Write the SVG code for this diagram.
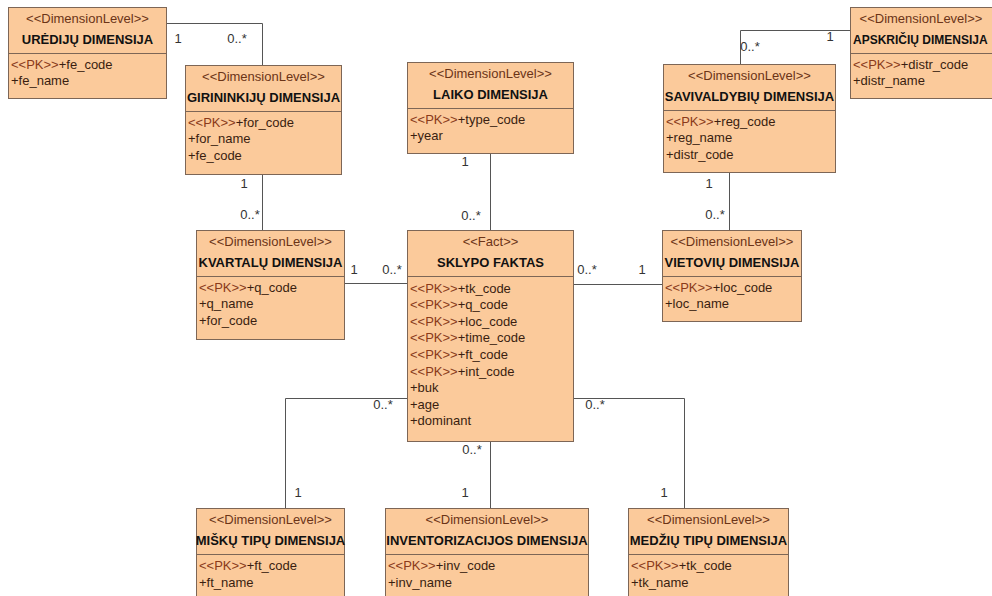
<svg xmlns="http://www.w3.org/2000/svg" width="992" height="596" viewBox="0 0 992 596">
  <style>
    .box { fill: #fbca9b; stroke: #7d6656; stroke-width: 1; }
    .sep { stroke: #7d6656; stroke-width: 1; }
    .st { font-family: "Liberation Sans", Arial, sans-serif; font-size: 13px; fill: #6b3417; text-anchor: middle; }
    .nm { font-family: "Liberation Sans", Arial, sans-serif; font-size: 13px; font-weight: bold; fill: #111; text-anchor: middle; }
    .at { font-family: "Liberation Sans", Arial, sans-serif; font-size: 13px; fill: #3a1e10; }
    .pk { fill: #8a3a1a; }
    .conn { fill: none; stroke: #555; stroke-width: 1; }
    .mul { font-family: "Liberation Sans", Arial, sans-serif; font-size: 13px; fill: #333; text-anchor: middle; }
  </style>
  <rect width="992" height="596" fill="#ffffff"/>

  <!-- associations -->
  <g id="connectors">
    <path class="conn" d="M166.5,23.5 H262.5 V65"/>
    <path class="conn" d="M262.5,174 V230"/>
    <path class="conn" d="M490.5,153 V230"/>
    <path class="conn" d="M740.5,64 V30.5 H850"/>
    <path class="conn" d="M729.5,172 V230"/>
    <path class="conn" d="M344,283.5 H407"/>
    <path class="conn" d="M573,284.5 H662"/>
    <path class="conn" d="M407,398.5 H285.5 V508"/>
    <path class="conn" d="M490.5,441 V508"/>
    <path class="conn" d="M573,398.5 H684.5 V508"/>

    <text class="mul" x="178" y="43">1</text>
    <text class="mul" x="237" y="43">0..*</text>
    <text class="mul" x="244" y="188">1</text>
    <text class="mul" x="250" y="219">0..*</text>
    <text class="mul" x="465" y="166">1</text>
    <text class="mul" x="471" y="220">0..*</text>
    <text class="mul" x="750" y="51">0..*</text>
    <text class="mul" x="830" y="41">1</text>
    <text class="mul" x="709" y="188">1</text>
    <text class="mul" x="715" y="219">0..*</text>
    <text class="mul" x="354" y="274">1</text>
    <text class="mul" x="392" y="274">0..*</text>
    <text class="mul" x="587" y="274">0..*</text>
    <text class="mul" x="642" y="274">1</text>
    <text class="mul" x="383" y="409">0..*</text>
    <text class="mul" x="595" y="409">0..*</text>
    <text class="mul" x="472" y="454">0..*</text>
    <text class="mul" x="298" y="497">1</text>
    <text class="mul" x="465" y="497">1</text>
    <text class="mul" x="664" y="497">1</text>
  </g>

  <g id="uredijos">
    <rect class="box" x="8.5" y="7.5" width="158" height="91"/>
    <line class="sep" x1="8.5" y1="53.5" x2="166.5" y2="53.5"/>
    <text class="st" x="87.5" y="22.5">&lt;&lt;DimensionLevel&gt;&gt;</text>
    <text class="nm" x="87.5" y="44">URĖDIJŲ DIMENSIJA</text>
    <text class="at" x="11" y="68.5"><tspan class="pk">&lt;&lt;PK&gt;&gt;</tspan>+fe_code</text>
    <text class="at" x="11" y="85">+fe_name</text>
  </g>

  <g id="girininkijos">
    <rect class="box" x="185.5" y="65.5" width="156" height="109"/>
    <line class="sep" x1="185.5" y1="111.5" x2="341.5" y2="111.5"/>
    <text class="st" x="263.5" y="80.5">&lt;&lt;DimensionLevel&gt;&gt;</text>
    <text class="nm" x="263.5" y="102">GIRININKIJŲ DIMENSIJA</text>
    <text class="at" x="188" y="126.5"><tspan class="pk">&lt;&lt;PK&gt;&gt;</tspan>+for_code</text>
    <text class="at" x="188" y="143">+for_name</text>
    <text class="at" x="188" y="159.5">+fe_code</text>
  </g>

  <g id="laiko">
    <rect class="box" x="407.5" y="62.5" width="166" height="91"/>
    <line class="sep" x1="407.5" y1="108.5" x2="573.5" y2="108.5"/>
    <text class="st" x="490.5" y="77.5">&lt;&lt;DimensionLevel&gt;&gt;</text>
    <text class="nm" x="490.5" y="99">LAIKO DIMENSIJA</text>
    <text class="at" x="410" y="123.5"><tspan class="pk">&lt;&lt;PK&gt;&gt;</tspan>+type_code</text>
    <text class="at" x="410" y="140">+year</text>
  </g>

  <g id="savivaldybes">
    <rect class="box" x="663.5" y="64.5" width="172" height="108"/>
    <line class="sep" x1="663.5" y1="110.5" x2="835.5" y2="110.5"/>
    <text class="st" x="749.5" y="79.5">&lt;&lt;DimensionLevel&gt;&gt;</text>
    <text class="nm" x="749.5" y="101">SAVIVALDYBIŲ DIMENSIJA</text>
    <text class="at" x="666" y="125.5"><tspan class="pk">&lt;&lt;PK&gt;&gt;</tspan>+reg_code</text>
    <text class="at" x="666" y="142">+reg_name</text>
    <text class="at" x="666" y="158.5">+distr_code</text>
  </g>

  <!-- this class box runs past the right edge of the canvas -->
  <g id="apskritys">
    <rect class="box" x="850.5" y="7.5" width="148" height="91"/>
    <line class="sep" x1="850.5" y1="53.5" x2="998.5" y2="53.5"/>
    <text class="st" x="921" y="22.5">&lt;&lt;DimensionLevel&gt;&gt;</text>
    <text class="nm" x="853" y="44" style="text-anchor:start; font-size:12px">APSKRIČIŲ DIMENSIJA</text>
    <text class="at" x="853" y="68.5"><tspan class="pk">&lt;&lt;PK&gt;&gt;</tspan>+distr_code</text>
    <text class="at" x="853" y="85">+distr_name</text>
  </g>

  <g id="kvartalai">
    <rect class="box" x="196.5" y="230.5" width="148" height="109"/>
    <line class="sep" x1="196.5" y1="276.5" x2="344.5" y2="276.5"/>
    <text class="st" x="270.5" y="245.5">&lt;&lt;DimensionLevel&gt;&gt;</text>
    <text class="nm" x="270.5" y="267">KVARTALŲ DIMENSIJA</text>
    <text class="at" x="199" y="291.5"><tspan class="pk">&lt;&lt;PK&gt;&gt;</tspan>+q_code</text>
    <text class="at" x="199" y="308">+q_name</text>
    <text class="at" x="199" y="324.5">+for_code</text>
  </g>

  <g id="sklypo-faktas">
    <rect class="box" x="407.5" y="230.5" width="166" height="211"/>
    <line class="sep" x1="407.5" y1="276.5" x2="573.5" y2="276.5"/>
    <text class="st" x="490.5" y="245.5">&lt;&lt;Fact&gt;&gt;</text>
    <text class="nm" x="490.5" y="267">SKLYPO FAKTAS</text>
    <text class="at" x="410" y="292.5"><tspan class="pk">&lt;&lt;PK&gt;&gt;</tspan>+tk_code</text>
    <text class="at" x="410" y="309"><tspan class="pk">&lt;&lt;PK&gt;&gt;</tspan>+q_code</text>
    <text class="at" x="410" y="325.7"><tspan class="pk">&lt;&lt;PK&gt;&gt;</tspan>+loc_code</text>
    <text class="at" x="410" y="342.3"><tspan class="pk">&lt;&lt;PK&gt;&gt;</tspan>+time_code</text>
    <text class="at" x="410" y="358.9"><tspan class="pk">&lt;&lt;PK&gt;&gt;</tspan>+ft_code</text>
    <text class="at" x="410" y="375.5"><tspan class="pk">&lt;&lt;PK&gt;&gt;</tspan>+int_code</text>
    <text class="at" x="410" y="392.1">+buk</text>
    <text class="at" x="410" y="408.7">+age</text>
    <text class="at" x="410" y="425.3">+dominant</text>
  </g>

  <g id="vietoves">
    <rect class="box" x="662.5" y="230.5" width="139" height="91"/>
    <line class="sep" x1="662.5" y1="276.5" x2="801.5" y2="276.5"/>
    <text class="st" x="732" y="245.5">&lt;&lt;DimensionLevel&gt;&gt;</text>
    <text class="nm" x="732" y="267">VIETOVIŲ DIMENSIJA</text>
    <text class="at" x="665" y="291.5"><tspan class="pk">&lt;&lt;PK&gt;&gt;</tspan>+loc_code</text>
    <text class="at" x="665" y="308">+loc_name</text>
  </g>

  <g id="misku-tipai">
    <rect class="box" x="196.5" y="508.5" width="148" height="100"/>
    <line class="sep" x1="196.5" y1="554.5" x2="344.5" y2="554.5"/>
    <text class="st" x="270.5" y="523.5">&lt;&lt;DimensionLevel&gt;&gt;</text>
    <text class="nm" x="270.5" y="545">MIŠKŲ TIPŲ DIMENSIJA</text>
    <text class="at" x="199" y="570"><tspan class="pk">&lt;&lt;PK&gt;&gt;</tspan>+ft_code</text>
    <text class="at" x="199" y="586.5">+ft_name</text>
  </g>

  <g id="inventorizacija">
    <rect class="box" x="385.5" y="508.5" width="203" height="100"/>
    <line class="sep" x1="385.5" y1="554.5" x2="588.5" y2="554.5"/>
    <text class="st" x="487" y="523.5">&lt;&lt;DimensionLevel&gt;&gt;</text>
    <text class="nm" x="487" y="545">INVENTORIZACIJOS DIMENSIJA</text>
    <text class="at" x="388" y="570"><tspan class="pk">&lt;&lt;PK&gt;&gt;</tspan>+inv_code</text>
    <text class="at" x="388" y="586.5">+inv_name</text>
  </g>

  <g id="medziu-tipai">
    <rect class="box" x="628.5" y="508.5" width="160" height="100"/>
    <line class="sep" x1="628.5" y1="554.5" x2="788.5" y2="554.5"/>
    <text class="st" x="708.5" y="523.5">&lt;&lt;DimensionLevel&gt;&gt;</text>
    <text class="nm" x="708.5" y="545">MEDŽIŲ TIPŲ DIMENSIJA</text>
    <text class="at" x="631" y="570"><tspan class="pk">&lt;&lt;PK&gt;&gt;</tspan>+tk_code</text>
    <text class="at" x="631" y="586.5">+tk_name</text>
  </g>
</svg>
